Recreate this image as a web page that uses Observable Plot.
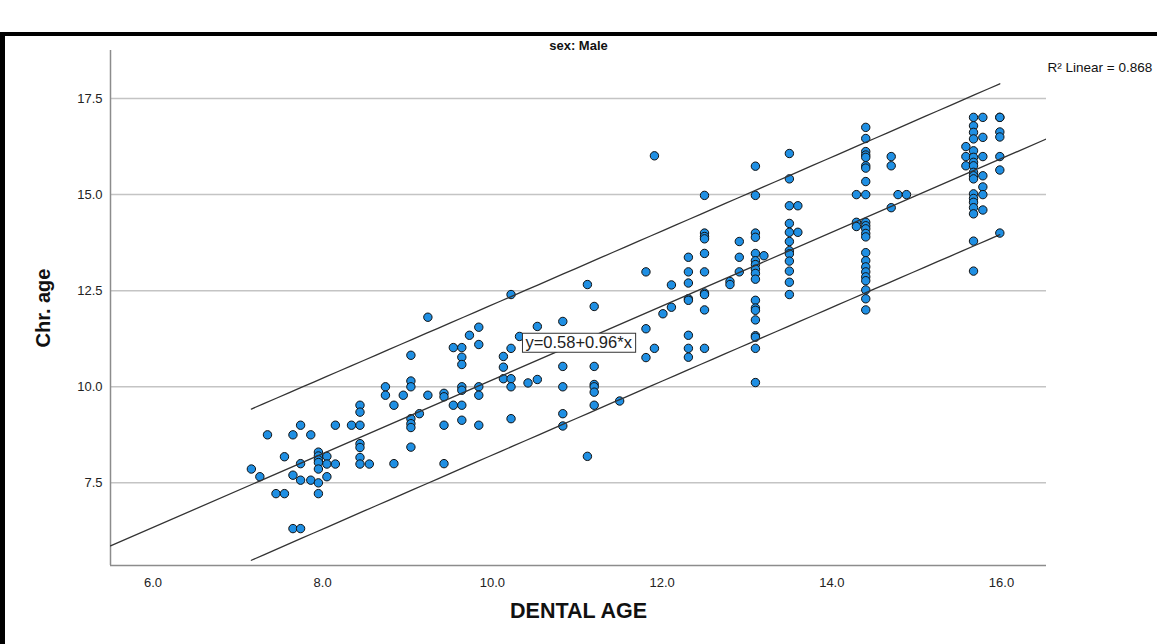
<!DOCTYPE html>
<html><head><meta charset="utf-8">
<script src="https://cdn.jsdelivr.net/npm/d3@7"></script>
<script src="https://cdn.jsdelivr.net/npm/@observablehq/plot@0.6"></script>
<style>
body{margin:0;background:#fff;}
#wrap{position:relative;width:1157px;height:644px;overflow:hidden;background:#fff;}
#frame{position:absolute;left:0;top:32px;width:1300px;height:700px;border-top:4px solid #000;border-left:5px solid #000;box-sizing:border-box;}
#chart{position:absolute;left:0;top:0;}
.tickaxis text{font-size:13px !important;}
</style></head><body><div id="wrap"><div id="frame"></div><div id="chart"></div></div>
<script>
// ---- data (DENTAL AGE vs Chr. age, sex: Male) ----
const dentalAge = [
  7.16,7.26,7.35,7.45,7.55,7.55,7.65,7.65,7.65,7.74,7.74,7.74,7.74,7.86,7.86,
  7.95,7.95,7.95,7.95,7.95,7.95,7.95,
  8.05,8.05,8.05,8.15,8.15,8.34,
  8.44,8.44,8.44,8.44,8.44,8.44,8.44,8.55,
  8.74,8.74,8.84,8.84,8.95,
  9.04,9.04,9.04,9.04,9.04,9.04,9.04,9.14,9.24,9.24,
  9.43,9.43,9.43,9.43,9.54,9.54,
  9.64,9.64,9.64,9.64,9.64,9.64,9.64,9.73,
  9.84,9.84,9.84,9.84,9.84,
  10.13,10.13,10.13,10.22,10.22,10.22,10.22,10.22,10.32,10.42,10.53,10.53,
  10.83,10.83,10.83,10.83,10.83,11.12,11.12,
  11.20,11.20,11.20,11.20,11.20,11.20,11.50,
  11.81,11.81,11.81,11.91,11.91,12.01,12.11,12.11,
  12.31,12.31,12.31,12.31,12.31,12.31,12.31,12.31,
  12.50,12.50,12.50,12.50,12.50,12.50,12.50,12.50,12.50,12.50,
  12.80,12.80,12.91,12.91,12.91,
  13.10,13.10,13.10,13.10,13.10,13.10,13.10,13.10,13.10,13.10,13.10,13.10,13.10,13.10,13.10,13.10,13.10,13.10,
  13.20,
  13.50,13.50,13.50,13.50,13.50,13.50,13.50,13.50,13.50,13.50,13.50,13.50,
  13.60,13.60,
  14.29,14.29,14.29,
  14.40,14.40,14.40,14.40,14.40,14.40,14.40,14.40,14.40,14.40,14.40,14.40,14.40,14.40,14.40,14.40,14.40,14.40,14.40,14.40,14.40,14.40,14.40,
  14.70,14.70,14.70,14.78,14.88,
  15.58,15.58,15.58,
  15.67,15.67,15.67,15.67,15.67,15.67,15.67,15.67,15.67,15.67,15.67,15.67,15.67,15.67,15.67,15.67,15.67,15.67,
  15.78,15.78,15.78,15.78,15.78,15.78,15.78,
  15.98,15.98,15.98,15.98,15.98,15.98,15.98
];
const chrAge = [
  7.86,7.66,8.75,7.22,7.22,8.18,8.75,7.70,6.31,9.00,7.57,6.31,8.00,8.75,7.57,
  8.30,8.20,8.10,8.03,7.86,7.50,7.22,
  8.19,7.99,7.66,7.99,9.00,9.00,
  9.00,9.52,9.34,8.52,8.42,8.16,7.99,7.99,
  10.00,9.78,8.00,9.52,9.78,
  10.82,10.15,10.00,9.17,9.04,8.94,8.43,9.30,9.78,11.81,
  9.83,9.74,9.00,8.00,11.02,9.52,
  11.02,10.77,10.58,10.00,9.91,9.52,9.13,11.34,
  11.55,11.10,10.00,9.78,9.00,
  10.79,10.51,10.21,12.40,11.00,10.21,10.00,9.17,11.31,10.10,11.57,10.19,
  11.70,10.53,10.00,9.30,8.98,12.66,8.19,
  12.09,10.53,10.06,10.00,9.86,9.52,9.63,
  12.99,11.51,10.76,16.01,11.00,11.90,12.65,12.07,
  13.37,12.99,12.70,12.29,12.25,11.34,11.00,10.77,
  14.98,14.00,13.91,13.85,13.47,12.99,12.44,12.40,12.00,11.00,
  12.74,12.66,13.78,13.37,12.99,
  15.74,14.98,14.00,13.89,13.47,13.28,13.18,13.06,12.95,12.80,12.25,12.05,11.99,11.74,11.33,11.29,11.00,10.11,
  13.41,
  16.07,15.41,14.71,14.25,14.02,13.78,13.54,13.46,13.27,13.01,12.72,12.40,
  14.71,14.02,
  15.00,14.28,14.17,
  16.75,16.46,16.12,16.03,15.97,15.75,15.69,15.34,15.00,14.28,14.19,14.11,13.99,13.90,13.49,13.28,13.12,12.99,12.86,12.76,12.52,12.29,12.00,
  15.99,15.75,14.66,15.00,15.00,
  16.25,15.99,15.75,
  17.01,16.79,16.62,16.45,16.14,15.97,15.84,15.75,15.58,15.49,15.41,15.02,14.90,14.80,14.66,14.50,13.79,13.01,
  17.01,16.49,15.99,15.49,15.20,15.00,14.60,
  17.01,17.01,16.63,16.50,15.99,15.64,14.00
];
const xTicks = [6, 8, 10, 12, 14, 16];
const yTicks = [7.5, 10, 12.5, 15, 17.5];
const intercept = 0.58;
const slope = 0.96;
const rSquared = 0.868;
const residualSE = 0.99;
const titleText = "sex: Male";
const xLabel = "DENTAL AGE";
const yLabel = "Chr. age";
const xDomain = [5.5, 16.53];
const yDomain = [5.35, 18.75];

// ---- derived ----
const points = dentalAge.map((x, i) => ({x, y: chrAge[i]}));
const n = points.length;
const xbar = d3.mean(dentalAge);
const sxx = d3.sum(dentalAge, x => (x - xbar) ** 2);
const tcrit = 1.969;
const [xmin, xmax] = d3.extent(dentalAge);
const bandX = d3.range(xmin, xmax + 1e-9, (xmax - xmin) / 60);
const hw = x => tcrit * residualSE * Math.sqrt(1 + 1 / n + (x - xbar) ** 2 / sxx);
const upper = bandX.map(x => ({x, y: intercept + slope * x + hw(x)}));
const lower = bandX.map(x => ({x, y: intercept + slope * x - hw(x)}));
const fit = xDomain.map(x => ({x, y: intercept + slope * x}));

const font = "'Liberation Sans', Arial, sans-serif";
const chart = Plot.plot({
  width: 1157,
  height: 644,
  marginTop: 50,
  marginBottom: 79,
  marginLeft: 110,
  marginRight: 111,
  style: {fontFamily: font, background: "transparent", overflow: "visible"},
  x: {domain: xDomain, label: null},
  y: {domain: yDomain, label: null},
  marks: [
    Plot.gridY(yTicks, {stroke: "#c4c4c4", strokeOpacity: 1, strokeWidth: 1.5}),
    Plot.axisX({ticks: xTicks, tickFormat: d3.format(".1f"), tickSize: 0, tickPadding: 12, fill: "#222", label: null, className: "tickaxis"}),
    Plot.axisY({ticks: yTicks, tickFormat: d3.format(".1f"), tickSize: 0, tickPadding: 8, fill: "#222", label: null, className: "tickaxis"}),
    Plot.ruleX([xDomain[0]], {stroke: "#8c8c8c", strokeWidth: 1.5}),
    Plot.ruleY([yDomain[0]], {stroke: "#8c8c8c", strokeWidth: 1.5}),
    Plot.dot(points, {x: "x", y: "y", r: 4.2, fill: "#1f8fe3", stroke: "#111", strokeWidth: 1}),
    Plot.line(upper, {x: "x", y: "y", stroke: "#333", strokeWidth: 1.3}),
    Plot.line(lower, {x: "x", y: "y", stroke: "#333", strokeWidth: 1.3}),
    Plot.line(fit, {x: "x", y: "y", stroke: "#333", strokeWidth: 1.3, clip: true}),
    Plot.text([0], {frameAnchor: "top", dy: -10, text: () => titleText, fontSize: 13, fontWeight: "bold", fill: "#111"}),
    Plot.text([0], {frameAnchor: "bottom", dy: 52, text: () => xLabel, fontSize: 21.5, fontWeight: "bold", fill: "#111"}),
    Plot.text([0], {frameAnchor: "left", dx: -67, rotate: -90, textAnchor: "middle", text: () => yLabel, fontSize: 20, fontWeight: "bold", fill: "#111"}),
    Plot.text([0], {frameAnchor: "top-right", dx: 1, dy: 12, textAnchor: "start", text: () => `R² Linear = ${rSquared}`, fontSize: 13.5, fill: "#111"}),
    Plot.text([{x: 10.39, y: 11.14}], {x: "x", y: "y", textAnchor: "start", text: () => `y=${intercept}+${slope}*x`, fontSize: 16.5, fill: "#222", className: "eqlabel"})
  ]
});
document.getElementById("chart").appendChild(chart);
// white box with border behind the equation label
const eq = chart.querySelector("g.eqlabel text");
if (eq) {
  const b = eq.getBBox();
  const rect = document.createElementNS("http://www.w3.org/2000/svg", "rect");
  rect.setAttribute("x", b.x - 3);
  rect.setAttribute("y", b.y);
  rect.setAttribute("width", b.width + 6);
  rect.setAttribute("height", b.height + 1);
  rect.setAttribute("fill", "#fff");
  rect.setAttribute("stroke", "#333");
  rect.setAttribute("stroke-width", 1);
  const tf = eq.getAttribute("transform");
  if (tf) rect.setAttribute("transform", tf);
  eq.parentNode.insertBefore(rect, eq);
}
</script>
</body></html>
